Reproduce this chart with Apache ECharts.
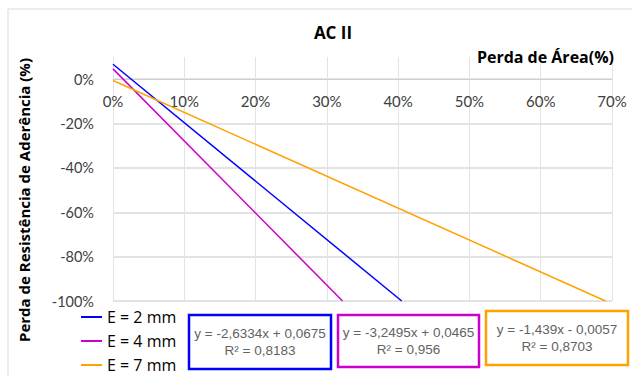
<!DOCTYPE html>
<html>
<head>
<meta charset="utf-8">
<script src="https://cdn.jsdelivr.net/npm/echarts@6/dist/echarts.min.js"></script>
<style>html,body{margin:0;padding:0;background:#fff;}#c{width:632px;height:376px;}</style>
</head>
<body>
<div id="c"></div>
<script>
const chartTitle = 'AC II';
const xAxisName = 'Perda de Área(%)';
const yAxisName = 'Perda de Resistência de Aderência (%)';
const seriesNames = ['E = 2 mm', 'E = 4 mm', 'E = 7 mm'];
const seriesColors = ['#0000FF', '#CC00CC', '#FFA200'];
// trend line endpoints [x, y]
const lineE2 = [[0, 0.0675], [0.405, -1]];
const lineE4 = [[0, 0.0465], [0.322, -1]];
const lineE7 = [[0, -0.0057], [0.691, -1]];
const equations = ['y = -2,6334x + 0,0675\nR² = 0,8183', 'y = -3,2495x + 0,0465\nR² = 0,956', 'y = -1,439x - 0,0057\nR² = 0,8703'];
const xTicks = [0, 0.1, 0.2, 0.3, 0.4, 0.5, 0.6, 0.7];
const yTicks = [-1, -0.8, -0.6, -0.4, -0.2, 0];

const font = 'Lato, "Open Sans", sans-serif';
const boldFont = '"Open Sans", Lato, sans-serif';
const pct = v => Math.round(v * 100) + '%';
const chart = echarts.init(document.getElementById('c'), null, {renderer: 'svg'});
const boxes = [
  {x: 189, y: 315, w: 142, h: 54},
  {x: 338, y: 315, w: 141, h: 52},
  {x: 486, y: 311, w: 142, h: 54}
];
const graphics = [{
  type: 'rect', shape: {x: 8, y: 9, width: 700, height: 500},
  style: {fill: 'none', stroke: '#d9d9d9', lineWidth: 1}, silent: true
}];
boxes.forEach((b, i) => {
  graphics.push({type: 'rect', shape: {x: b.x, y: b.y, width: b.w, height: b.h},
    style: {fill: '#fff', stroke: seriesColors[i], lineWidth: 2.5}});
  graphics.push({type: 'text', x: b.x + b.w / 2, y: b.y + b.h / 2,
    style: {text: equations[i], align: 'center', verticalAlign: 'middle',
      font: '13.5px "Liberation Sans Narrow", "Liberation Sans", sans-serif', lineHeight: 17, fill: '#626262'}});
});
const legendRows = [317, 341, 365];
const option = {
  animation: false,
  backgroundColor: '#fff',
  title: {text: chartTitle, left: 328, top: 19, textAlign: 'center',
    textStyle: {fontFamily: boldFont, fontWeight: 'bold', fontSize: 17, color: '#000'}},
  grid: {left: 113, right: 20, top: 57, bottom: 75},
  legend: seriesNames.map((n, i) => ({orient: 'vertical', left: 81, top: legendRows[i] - 9, padding: 0,
    itemWidth: 21, itemHeight: 2, icon: 'rect', data: [n],
    textStyle: {fontFamily: boldFont, fontSize: 16, color: '#000', lineHeight: 18}})),
  xAxis: {type: 'value', min: 0, max: 0.7, interval: 0.1, position: 'top', offset: -22,
    name: xAxisName, nameLocation: 'end', nameGap: 2,
    nameTextStyle: {fontFamily: boldFont, fontWeight: 'bold', fontSize: 16, color: '#000', align: 'right', verticalAlign: 'bottom', padding: [0, 0, 14, 0]},
    axisLine: {show: true, onZero: false, lineStyle: {color: '#d0d0d0', width: 1}},
    axisTick: {show: false},
    axisLabel: {formatter: pct, inside: true, margin: 14, fontFamily: font, fontSize: 15, color: '#404040'},
    splitLine: {show: true, lineStyle: {color: '#e3e3e3', width: 1}}},
  yAxis: {type: 'value', min: -1, max: 0.1, interval: 0.2,
    name: yAxisName, nameLocation: 'middle', nameRotate: 90, nameGap: 82,
    nameTextStyle: {fontFamily: boldFont, fontWeight: 'bold', fontSize: 15, color: '#000', padding: [0, 42, 0, 0]},
    axisLine: {show: false}, axisTick: {show: false},
    axisLabel: {formatter: v => yTicks.some(t => Math.abs(t - v) < 1e-9) ? pct(v) : '', showMaxLabel: false, margin: 19, fontFamily: font, fontSize: 14.5, color: '#404040'},
    splitLine: {show: true, showMaxLine: false, lineStyle: {color: '#e3e3e3', width: 2}}},
  series: [
    {name: seriesNames[0], type: 'line', data: lineE2, showSymbol: false, clip: true, lineStyle: {color: seriesColors[0], width: 1.5}, itemStyle: {color: seriesColors[0]}},
    {name: seriesNames[1], type: 'line', data: lineE4, showSymbol: false, clip: true, lineStyle: {color: seriesColors[1], width: 1.5}, itemStyle: {color: seriesColors[1]}},
    {name: seriesNames[2], type: 'line', data: lineE7, showSymbol: false, clip: true, lineStyle: {color: seriesColors[2], width: 1.5}, itemStyle: {color: seriesColors[2]}}
  ],
  graphic: graphics
};
chart.setOption(option);
</script>
</body>
</html>
